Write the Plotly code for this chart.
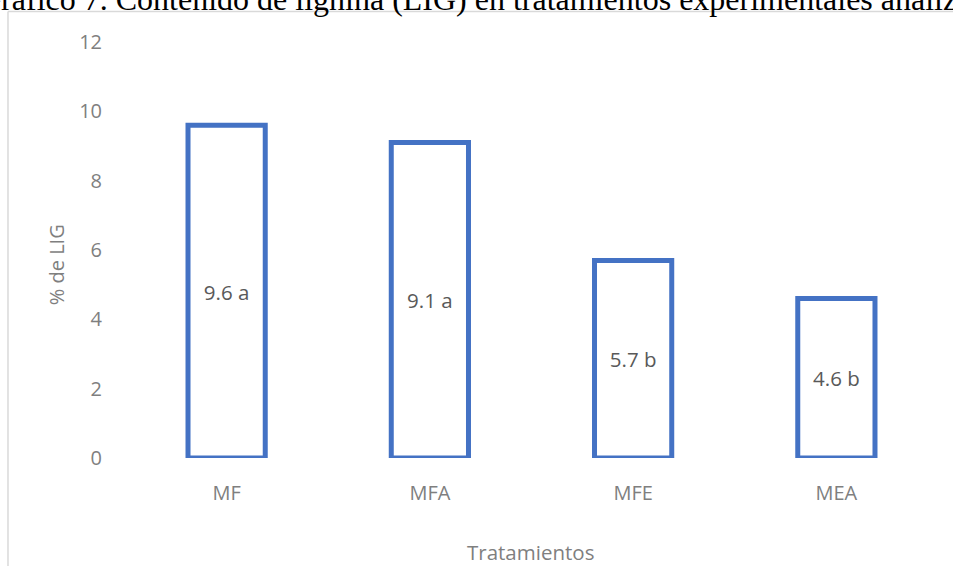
import plotly.graph_objects as go

categories = ["MF", "MFA", "MFE", "MEA"]
values = [9.6, 9.1, 5.7, 4.6]
letters = ["a", "a", "b", "b"]
y_ticks = [0, 2, 4, 6, 8, 10, 12]
labels = [f"{v} {l}" for v, l in zip(values, letters)]
title_text = "Gráfico 7. Contenido de lignina (LIG) en tratamientos experimentales analizados"

W, H = 953, 566
L, R, T, B = 125.4, 937.6, 42.0, 458.5

def px(x):
    return (x - L) / (R - L)

def py(y):
    return (B - y) / (B - T)

FONT = "Open Sans"
GRAY = "#7f7f7f"
fig = go.Figure(
    go.Bar(
        x=categories,
        y=values,
        width=0.38,
        marker=dict(color="white", line=dict(color="#4472C4", width=5)),
        text=labels,
        textposition="inside",
        insidetextanchor="middle",
        textangle=0,
        textfont=dict(family=FONT, size=20.5, color="#595959"),
        cliponaxis=False,
        hoverinfo="skip",
    )
)

fig.update_layout(
    width=W,
    height=H,
    margin=dict(l=L, r=W - R, t=T, b=H - B, pad=0),
    paper_bgcolor="white",
    plot_bgcolor="white",
    showlegend=False,
    font=dict(family=FONT, color=GRAY),
    xaxis=dict(
        showline=False,
        showgrid=False,
        zeroline=False,
        ticks="outside",
        ticklen=17,
        tickcolor="rgba(0,0,0,0)",
        tickfont=dict(family=FONT, size=20, color=GRAY),
    ),
    yaxis=dict(
        range=[0, 12],
        tickvals=y_ticks,
        showline=False,
        showgrid=False,
        zeroline=False,
        ticks="outside",
        ticklen=18,
        tickcolor="rgba(0,0,0,0)",
        tickfont=dict(family=FONT, size=20, color=GRAY),
    ),
    shapes=[
        dict(type="line", xref="paper", yref="paper",
             x0=px(8.5), x1=px(8.5), y0=py(11.5), y1=py(575),
             line=dict(color="#d9d9d9", width=1.5)),
        dict(type="line", xref="paper", yref="paper",
             x0=px(8.5), x1=px(965), y0=py(11.5), y1=py(11.5),
             line=dict(color="#d9d9d9", width=1.5)),
    ],
    annotations=[
        dict(text=title_text,
             xref="paper", yref="paper", x=px(-22), y=py(18.3), xanchor="left", yanchor="bottom",
             showarrow=False, borderpad=0,
             font=dict(family="Liberation Serif", size=32, color="#000000")),
        dict(text="Tratamientos", xref="paper", yref="paper", x=px(531), y=py(553),
             xanchor="center", yanchor="middle", showarrow=False,
             font=dict(family=FONT, size=20.5, color=GRAY)),
        dict(text="% de LIG", xref="paper", yref="paper", x=px(57), y=py(265),
             xanchor="center", yanchor="middle", showarrow=False, textangle=-90,
             font=dict(family=FONT, size=20, color=GRAY)),
    ],
)

fig.write_html("out.html", config={"displayModeBar": False, "staticPlot": True},
               post_script="document.body.style.margin='0';document.body.style.overflow='hidden';")
